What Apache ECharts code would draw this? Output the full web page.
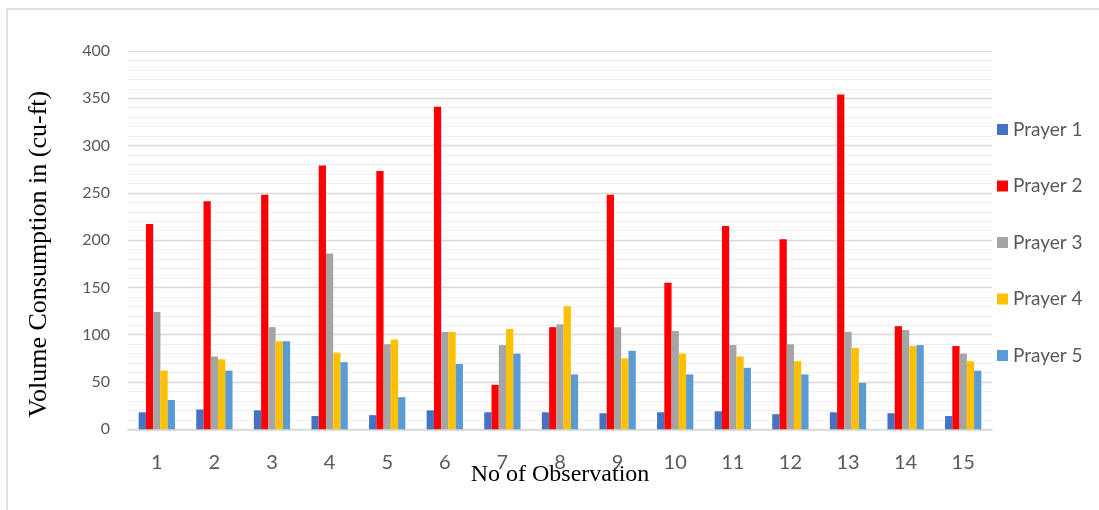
<!DOCTYPE html>
<html>
<head>
<meta charset="utf-8">
<script src="https://cdn.jsdelivr.net/npm/echarts@6/dist/echarts.min.js"></script>
<style>
html,body{margin:0;padding:0;background:#fff;}
#chart{width:1099px;height:510px;}
</style>
</head>
<body>
<div id="chart"></div>
<script>
const categories = ['1','2','3','4','5','6','7','8','9','10','11','12','13','14','15'];
const prayer1 = [18, 21, 20, 14, 15, 20, 18, 18, 17, 18, 19, 16, 18, 17, 14];
const prayer2 = [217, 241, 248, 279, 273, 341, 47, 108, 248, 155, 215, 201, 354, 109, 88];
const prayer3 = [124, 77, 108, 186, 90, 103, 89, 111, 108, 104, 89, 90, 103, 105, 80];
const prayer4 = [62, 74, 93, 81, 95, 103, 106, 130, 75, 80, 77, 72, 86, 88, 72];
const prayer5 = [31, 62, 93, 71, 34, 69, 80, 58, 83, 58, 65, 58, 49, 89, 62];
const seriesNames = ['Prayer 1','Prayer 2','Prayer 3','Prayer 4','Prayer 5'];
const colors = ['#4472C4','#FF0000','#A5A5A5','#FFC000','#5B9BD5'];

const chart = echarts.init(document.getElementById('chart'), null, {renderer:'canvas'});
const dataSets = [prayer1, prayer2, prayer3, prayer4, prayer5];
const option = {
  animation: false,
  backgroundColor: '#fff',
  color: colors,
  graphic: [{
    type: 'rect', shape: {x: 7, y: 9, width: 1200, height: 600},
    style: {fill: 'none', stroke: '#D9D9D9', lineWidth: 1.5}, silent: true, z: -10
  }],
  grid: {left: 128, right: 107, top: 51, bottom: 80.7, containLabel: false},
  legend: {
    orient: 'vertical', left: 997, top: 120, padding: 0,
    itemWidth: 11, itemHeight: 11, itemGap: 37.5, itemTextGap: 6,
    icon: 'rect',
    textStyle: {fontFamily: 'Lato', fontSize: 19, color: '#595959'},
    data: seriesNames
  },
  xAxis: {
    type: 'category', data: categories,
    name: 'No of Observation', nameLocation: 'middle', nameGap: 33, nameMoveOverlap: false,
    nameTextStyle: {fontFamily: 'Liberation Serif', fontSize: 24, color: '#000'},
    axisLine: {lineStyle: {color: '#D9D9D9', width: 1.5}},
    axisTick: {show: false},
    axisLabel: {fontFamily: 'Lato', fontSize: 20, color: '#595959', margin: 23}
  },
  yAxis: {
    type: 'value', min: 0, max: 400, interval: 50,
    name: 'Volume Consumption in (cu-ft)', nameLocation: 'middle', nameGap: 76, nameRotate: 90,
    nameTextStyle: {fontFamily: 'Liberation Serif', fontSize: 26, color: '#000', padding: [0, 28, 0, 0]},
    axisLine: {show: false}, axisTick: {show: false},
    axisLabel: {fontFamily: 'Lato', fontSize: 16, color: '#595959', margin: 18},
    splitLine: {show: true, lineStyle: {color: '#D9D9D9', width: 1.3}},
    minorTick: {show: false, splitNumber: 5},
    minorSplitLine: {show: true, lineStyle: {color: '#EFEFEF', width: 1.2}}
  },
  series: dataSets.map((d, i) => ({
    name: seriesNames[i], type: 'bar', data: d,
    barGap: '0%', barCategoryGap: '37%',
    itemStyle: {color: colors[i]}
  }))
};
chart.setOption(option);
</script>
</body>
</html>
